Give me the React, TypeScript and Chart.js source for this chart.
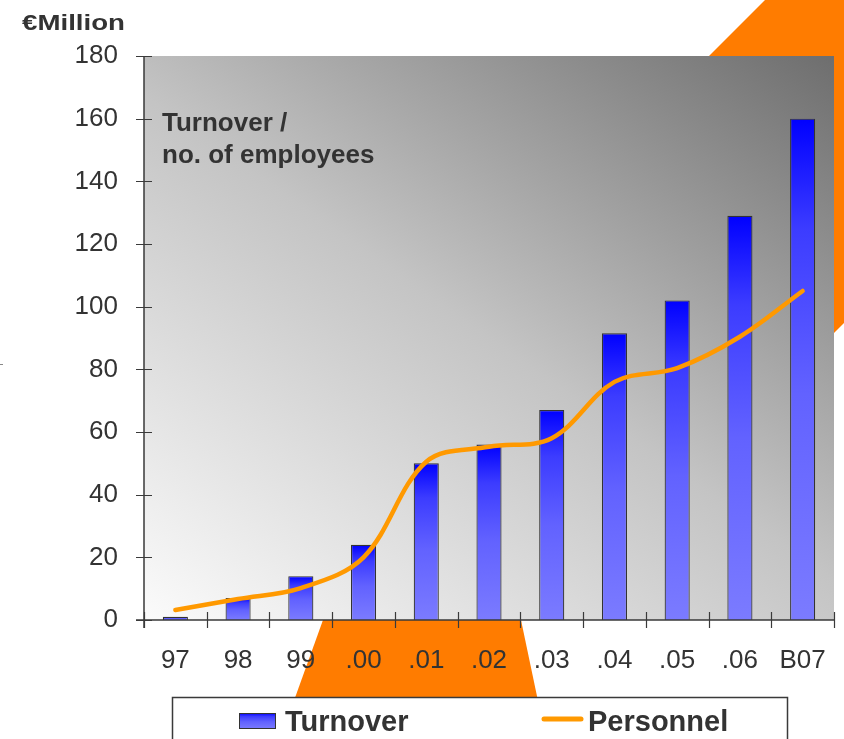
import React, { useEffect, useRef } from 'react';
import { Chart, registerables } from 'chart.js';

Chart.register(...registerables);

// ---- data ----
const categories = ['97', '98', '99', '.00', '.01', '.02', '.03', '.04', '.05', '.06', 'B07'];
const turnover = [1, 7, 14, 24, 50, 56, 67, 91.5, 102, 129, 160];
const personnel = [3.2, 6.7, 10.2, 20, 50.5, 55.3, 58, 76, 80.4, 90.4, 105];
const yMin = 0;
const yMax = 180;
const yStep = 20;
const seriesNames = ['Turnover', 'Personnel'];
const unitLabel = '€Million';
const noteLines = ['Turnover /', 'no. of employees'];

// ---- styles ----
const W = 844;
const H = 739;
const FONT = "'Liberation Sans', Arial, sans-serif";
const TEXT = '#333333';
const ORANGE = '#ff7c00';
const LINE = '#ff9900';
const AXIS = '#3a3a3a';

function barGradient(ctx: CanvasRenderingContext2D, top: number, bottom: number) {
  const g = ctx.createLinearGradient(0, top, 0, bottom);
  g.addColorStop(0, '#0000ff');
  g.addColorStop(0.22, '#3c3cff');
  g.addColorStop(0.55, '#6262ff');
  g.addColorStop(1, '#7b7bff');
  return g;
}

const decorPlugin = {
  id: 'decor',
  beforeDraw(chart: any) {
    const { ctx, chartArea: a } = chart;
    ctx.save();
    ctx.fillStyle = '#ffffff';
    ctx.fillRect(0, 0, W, H);
    // orange band behind the plot (top right)
    ctx.fillStyle = ORANGE;
    ctx.beginPath();
    ctx.moveTo(765, 0);
    ctx.lineTo(W, 0);
    ctx.lineTo(W, 323);
    ctx.lineTo(600, 567);
    ctx.lineTo(400, 365);
    ctx.closePath();
    ctx.fill();
    // orange trapezoid below the plot
    ctx.beginPath();
    ctx.moveTo(323, a.bottom);
    ctx.lineTo(521, a.bottom);
    ctx.lineTo(542, 720);
    ctx.lineTo(287, 720);
    ctx.closePath();
    ctx.fill();
    // plot background gradient
    const g = ctx.createLinearGradient(a.left, a.bottom, a.left + 0.575 * 858, a.bottom - 0.818 * 858);
    g.addColorStop(0, '#fbfbfb');
    g.addColorStop(0.5, '#c4c4c4');
    g.addColorStop(1, '#6e6e6e');
    ctx.fillStyle = g;
    ctx.fillRect(a.left, a.top, a.right - a.left, a.bottom - a.top);
    // small stray mark at left
    ctx.strokeStyle = '#888';
    ctx.lineWidth = 1;
    ctx.beginPath();
    ctx.moveTo(0, 364.5);
    ctx.lineTo(3, 364.5);
    ctx.stroke();
    ctx.restore();
  },
  afterDraw(chart: any) {
    const { ctx, chartArea: a, scales } = chart;
    const xs = scales.x;
    const ys = scales.y;
    ctx.save();
    // axes
    ctx.strokeStyle = AXIS;
    ctx.lineWidth = 1.5;
    ctx.beginPath();
    ctx.moveTo(a.left, a.top);
    ctx.lineTo(a.left, a.bottom + 8);
    ctx.moveTo(a.left - 8, a.bottom);
    ctx.lineTo(a.right + 1, a.bottom);
    ctx.stroke();
    // y ticks (crossing the axis)
    ctx.lineWidth = 1.2;
    ctx.beginPath();
    for (let v = yMin; v <= yMax; v += yStep) {
      const y = Math.round(ys.getPixelForValue(v)) + 0.5;
      ctx.moveTo(a.left - 8, y);
      ctx.lineTo(a.left + 8, y);
    }
    // x ticks at category boundaries
    const half = (xs.getPixelForValue(1) - xs.getPixelForValue(0)) / 2;
    for (let i = 0; i <= categories.length; i++) {
      const x = Math.round(xs.getPixelForValue(i) - half) + 0.5;
      ctx.moveTo(x, a.bottom - 8);
      ctx.lineTo(x, a.bottom + 8);
    }
    ctx.stroke();

    // unit label
    ctx.fillStyle = TEXT;
    ctx.textBaseline = 'alphabetic';
    ctx.textAlign = 'left';
    ctx.font = `bold 22px ${FONT}`;
    const uw = ctx.measureText(unitLabel).width;
    ctx.save();
    ctx.translate(22, 30);
    ctx.scale(103 / uw, 1);
    ctx.fillText(unitLabel, 0, 0);
    ctx.restore();

    // note text
    ctx.font = `bold 26px ${FONT}`;
    ctx.fillText(noteLines[0], a.left + 18, 131);
    ctx.fillText(noteLines[1], a.left + 18, 163);

    // legend
    const lx = 172.5, ly = 697.5, lw = 615;
    ctx.fillStyle = '#ffffff';
    ctx.fillRect(lx, ly, lw, H - ly + 10);
    ctx.strokeStyle = AXIS;
    ctx.lineWidth = 1.5;
    ctx.strokeRect(lx, ly, lw, H - ly + 10);
    // bar swatch
    ctx.fillStyle = barGradient(ctx, 713, 729);
    ctx.fillRect(239, 713, 37, 16);
    ctx.strokeStyle = '#333';
    ctx.lineWidth = 1;
    ctx.strokeRect(239.5, 713.5, 36, 15);
    ctx.fillStyle = TEXT;
    ctx.font = `bold 29px ${FONT}`;
    ctx.fillText(chart.data.datasets[0].label, 285, 731);
    // line swatch
    ctx.strokeStyle = LINE;
    ctx.lineWidth = 5;
    ctx.lineCap = 'round';
    ctx.beginPath();
    ctx.moveTo(544, 719);
    ctx.lineTo(581, 719);
    ctx.stroke();
    ctx.fillText(chart.data.datasets[1].label, 588, 731);
    ctx.restore();
  },
};

export default function App() {
  const ref = useRef<HTMLCanvasElement | null>(null);
  useEffect(() => {
    if (!ref.current) return;
    const chart = new Chart(ref.current, {
      type: 'bar',
      data: {
        labels: categories,
        datasets: [
          {
            type: 'bar',
            label: seriesNames[0],
            data: turnover,
            order: 1,
            barPercentage: 0.4,
            categoryPercentage: 1,
            borderColor: '#333333',
            borderWidth: 1.2,
            backgroundColor: (c: any) => {
              const ch = c.chart;
              if (!ch.chartArea || c.type !== 'data') return '#4040ff';
              const ys = ch.scales.y;
              return barGradient(ch.ctx, ys.getPixelForValue(c.raw), ys.getPixelForValue(0));
            },
          } as any,
          {
            type: 'line',
            label: seriesNames[1],
            data: personnel,
            order: 0,
            borderColor: LINE,
            borderWidth: 4.5,
            tension: 0.35,
            pointRadius: 0,
            fill: false,
            borderCapStyle: 'round',
            borderJoinStyle: 'round',
          } as any,
        ],
      },
      options: {
        responsive: false,
        animation: false,
        devicePixelRatio: 1,
        layout: { padding: { left: 0, top: 56, right: 10, bottom: 0 } },
        plugins: {
          legend: { display: false },
          tooltip: { enabled: false },
          title: { display: false },
        },
        scales: {
          x: {
            type: 'category',
            offset: true,
            grid: { display: false, drawTicks: false },
            border: { display: false },
            ticks: {
              color: TEXT,
              font: { family: FONT, size: 26 },
              padding: 25,
              autoSkip: false,
              maxRotation: 0,
              minRotation: 0,
            },
            afterFit: (s: any) => {
              s.height = 119;
              s.paddingLeft = 0;
              s.paddingRight = 0;
            },
          },
          y: {
            min: yMin,
            max: yMax,
            grid: { display: false, drawTicks: false },
            border: { display: false },
            ticks: {
              stepSize: yStep,
              color: TEXT,
              font: { family: FONT, size: 26 },
              padding: 26,
            },
            afterFit: (s: any) => { s.width = 144; },
          },
        },
      },
      plugins: [decorPlugin],
    });
    return () => chart.destroy();
  }, []);
  return (
    <div style={{ position: 'fixed', left: 0, top: 0, width: W, height: H, background: '#fff' }}>
      <canvas ref={ref} width={W} height={H} style={{ display: 'block', width: W, height: H }} />
    </div>
  );
}
